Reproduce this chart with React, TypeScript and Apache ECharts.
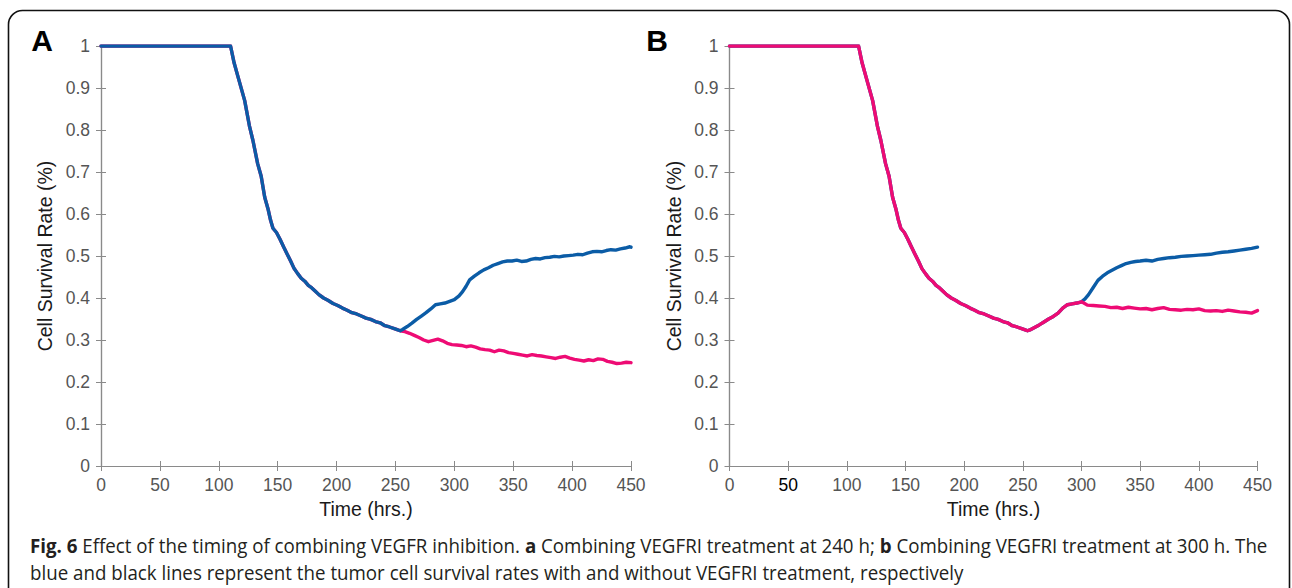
import React, { useEffect, useRef } from "react";
import * as echarts from "echarts";

// ---- data ----
const xTicks = [0, 50, 100, 150, 200, 250, 300, 350, 400, 450];

// shared decline (both panels, both series)
const commonT = [0, 50, 100, 110, 113, 117, 122, 126, 129, 133, 136, 139, 142, 144, 146, 149, 152, 155, 158, 161, 164, 167, 170, 173, 176, 179, 182, 185, 189, 193, 197, 201, 205, 209, 213, 217, 221, 225, 229, 233, 237, 241, 245, 249, 252, 254];
const commonV = [1, 1, 1, 1, 0.96, 0.92, 0.87, 0.81, 0.775, 0.72, 0.69, 0.64, 0.61, 0.585, 0.566, 0.556, 0.54, 0.522, 0.505, 0.488, 0.47, 0.458, 0.447, 0.44, 0.43, 0.424, 0.416, 0.408, 0.4, 0.394, 0.387, 0.382, 0.376, 0.371, 0.365, 0.362, 0.357, 0.352, 0.349, 0.344, 0.341, 0.334, 0.331, 0.327, 0.324, 0.322];

// panel A: pink (without VEGFRI) after 254 h
const pinkAT = [258, 262, 266, 270, 274, 278, 282, 286, 290, 294, 298, 302, 306, 310, 314, 318, 322, 326, 330, 334, 338, 342, 346, 350, 354, 358, 362, 366, 370, 374, 378, 382, 386, 390, 394, 398, 402, 406, 410, 414, 418, 422, 426, 430, 434, 438, 442, 446, 450];
const pinkAV = [0.32, 0.316, 0.311, 0.306, 0.3, 0.296, 0.299, 0.302, 0.298, 0.292, 0.289, 0.288, 0.287, 0.284, 0.286, 0.283, 0.279, 0.277, 0.276, 0.272, 0.276, 0.274, 0.27, 0.268, 0.266, 0.264, 0.262, 0.265, 0.263, 0.262, 0.26, 0.258, 0.256, 0.259, 0.261, 0.257, 0.254, 0.252, 0.25, 0.253, 0.251, 0.255, 0.254, 0.249, 0.247, 0.244, 0.245, 0.247, 0.246];

// panel A: blue (with VEGFRI) after 254 h
const blueAT = [256, 260, 264, 268, 272, 276, 280, 284, 288, 292, 296, 300, 304, 307, 310, 313, 317, 321, 325, 329, 333, 337, 341, 345, 349, 353, 357, 361, 365, 369, 373, 377, 381, 385, 389, 393, 397, 401, 405, 409, 413, 417, 421, 425, 429, 433, 437, 441, 445, 449, 450];
const blueAV = [0.325, 0.332, 0.34, 0.349, 0.357, 0.365, 0.374, 0.384, 0.386, 0.388, 0.392, 0.396, 0.405, 0.415, 0.428, 0.443, 0.452, 0.46, 0.467, 0.472, 0.478, 0.482, 0.486, 0.488, 0.488, 0.49, 0.487, 0.488, 0.492, 0.494, 0.493, 0.496, 0.497, 0.499, 0.498, 0.5, 0.501, 0.502, 0.504, 0.503, 0.507, 0.51, 0.511, 0.51, 0.513, 0.515, 0.514, 0.517, 0.519, 0.522, 0.521];

// panel B: shared rise 254-300 h
const riseBT = [256, 260, 264, 268, 272, 276, 280, 284, 288, 292, 296, 300];
const riseBV = [0.324, 0.33, 0.336, 0.343, 0.35, 0.356, 0.364, 0.376, 0.384, 0.386, 0.388, 0.391];

// panel B: pink after 300 h
const pinkBT = [302, 305, 310, 315, 320, 325, 330, 335, 340, 345, 350, 355, 360, 365, 370, 375, 380, 385, 390, 395, 400, 405, 410, 415, 420, 425, 430, 435, 440, 445, 450];
const pinkBV = [0.388, 0.383, 0.382, 0.381, 0.38, 0.377, 0.378, 0.375, 0.378, 0.376, 0.374, 0.375, 0.372, 0.375, 0.377, 0.373, 0.372, 0.371, 0.373, 0.372, 0.374, 0.37, 0.369, 0.37, 0.368, 0.371, 0.369, 0.367, 0.366, 0.364, 0.37];

// panel B: blue after 300 h
const blueBT = [303, 306, 310, 314, 318, 322, 326, 330, 334, 338, 342, 346, 350, 355, 360, 365, 370, 375, 380, 385, 390, 395, 400, 405, 410, 415, 420, 425, 430, 435, 440, 445, 450];
const blueBV = [0.398, 0.408, 0.425, 0.442, 0.452, 0.46, 0.466, 0.472, 0.477, 0.482, 0.485, 0.487, 0.488, 0.49, 0.488, 0.492, 0.494, 0.496, 0.497, 0.499, 0.5, 0.501, 0.502, 0.503, 0.504, 0.507, 0.509, 0.51, 0.512, 0.514, 0.516, 0.518, 0.521];

const panelLabels = ["A", "B"];
const xName = "Time (hrs.)";
const yName = "Cell Survival Rate (%)";
const captionLine1 = [
  { t: "Fig. 6", b: true },
  { t: " Effect of the timing of combining VEGFR inhibition. ", b: false },
  { t: "a", b: true },
  { t: " Combining VEGFRI treatment at 240 h; ", b: false },
  { t: "b", b: true },
  { t: " Combining VEGFRI treatment at 300 h. The", b: false },
];
const captionLine2 = "blue and black lines represent the tumor cell survival rates with and without VEGFRI treatment, respectively";

const BLUE = "#0B5CA6";
const PINK = "#EE0B74";
const AXIS = "#8a8a8a";

function pairs(ts: number[][], vs: number[][]) {
  const out: number[][] = [];
  ts.forEach((t, k) => t.forEach((x, i) => out.push([x, vs[k][i]])));
  return out;
}

export default function App() {
  const ref = useRef<HTMLDivElement>(null);
  useEffect(() => {
    if (!ref.current) return;
    const chart = echarts.init(ref.current, undefined, { renderer: "svg" });

    const capFont = '"Open Sans"';
    const capSize = 19.5;
    const ctx = document.createElement("canvas").getContext("2d")!;
    let w1 = 0;
    captionLine1.forEach((s) => {
      ctx.font = `${s.b ? "bold " : ""}${capSize}px ${capFont}`;
      w1 += ctx.measureText(s.t).width;
    });
    const scale = w1 > 0 ? 1238 / w1 : 0.8;

    const grids = [
      { left: 101, top: 46, width: 530, height: 420 },
      { left: 729.5, top: 46, width: 528, height: 420 },
    ];

    const xAxes: any[] = [];
    const yAxes: any[] = [];
    grids.forEach((_, gi) => {
      const base = {
        type: "value",
        gridIndex: gi,
        axisLine: { show: true, lineStyle: { color: AXIS, width: 1.2 } },
        axisTick: { show: true, inside: true, length: 5, lineStyle: { color: AXIS } },
        splitLine: { show: false },
      };
      xAxes.push({
        ...base,
        position: "bottom",
        min: 0,
        max: 450,
        interval: 50,
        name: xName,
        nameLocation: "middle",
        nameGap: 31,
        nameTextStyle: { fontSize: 19.5, color: "#1a1a1a", fontFamily: "Liberation Sans" },
        axisLabel: {
          fontSize: 17.5,
          color: "#555",
          margin: 10,
          fontFamily: "Liberation Sans",
          formatter: (v: number) => (gi === 1 && v === 50 ? `{d|${v}}` : `${v}`),
          rich: { d: { color: "#000", fontSize: 17.5, fontFamily: "Liberation Sans" } },
        },
      });
      xAxes.push({
        ...base,
        position: "top",
        min: 0,
        max: 450,
        interval: 50,
        axisLabel: { show: false },
      });
      yAxes.push({
        ...base,
        position: "left",
        min: 0,
        max: 1,
        interval: 0.1,
        name: yName,
        nameLocation: "middle",
        nameGap: 46,
        nameTextStyle: { fontSize: 19.5, color: "#1a1a1a", fontFamily: "Liberation Sans" },
        axisLabel: { fontSize: 17.5, color: "#555", margin: 11, fontFamily: "Liberation Sans" },
      });
      yAxes.push({
        ...base,
        position: "right",
        min: 0,
        max: 1,
        interval: 0.1,
        axisLabel: { show: false },
      });
    });

    const line = (name: string, data: number[][], color: string, gi: number) => ({
      name,
      type: "line",
      xAxisIndex: gi * 2,
      yAxisIndex: gi * 2,
      data,
      showSymbol: false,
      symbol: "none",
      lineStyle: { color, width: 3.4, join: "round", cap: "round" },
      itemStyle: { color },
    });

    const series = [
      line("A without VEGFRI", pairs([commonT, pinkAT], [commonV, pinkAV]), PINK, 0),
      line("A with VEGFRI", pairs([commonT, blueAT], [commonV, blueAV]), BLUE, 0),
      line("B with VEGFRI", pairs([commonT, riseBT, blueBT], [commonV, riseBV, blueBV]), BLUE, 1),
      line("B without VEGFRI", pairs([commonT, riseBT, pinkBT], [commonV, riseBV, pinkBV]), PINK, 1),
    ];

    const richText = captionLine1
      .map((s) => (s.b ? `{b|${s.t}}` : `{n|${s.t}}`))
      .join("");

    chart.setOption({
      animation: false,
      backgroundColor: "#ffffff",
      grid: grids,
      xAxis: xAxes,
      yAxis: yAxes,
      series,
      graphic: [
        {
          type: "rect",
          shape: { x: 8.5, y: 10.5, width: 1281, height: 640, r: 14 },
          style: { fill: "none", stroke: "#111", lineWidth: 1.6 },
          silent: true,
        },
        {
          type: "text",
          x: 42,
          y: 40,
          style: {
            text: panelLabels[0],
            fontSize: 30,
            fontWeight: "bold",
            fontFamily: "Liberation Sans",
            fill: "#000",
            align: "center",
            verticalAlign: "middle",
          },
        },
        {
          type: "text",
          x: 657,
          y: 40,
          style: {
            text: panelLabels[1],
            fontSize: 30,
            fontWeight: "bold",
            fontFamily: "Liberation Sans",
            fill: "#000",
            align: "center",
            verticalAlign: "middle",
          },
        },
        {
          type: "group",
          x: 30,
          y: 0,
          scaleX: scale,
          children: [
            {
              type: "text",
              x: 0,
              y: 546,
              style: {
                text: richText,
                fontSize: capSize,
                fontFamily: capFont,
                fill: "#231f20",
                verticalAlign: "middle",
                rich: {
                  b: { fontWeight: "bold", fontSize: capSize, fontFamily: capFont, fill: "#231f20" },
                  n: { fontSize: capSize, fontFamily: capFont, fill: "#231f20" },
                },
              },
            },
            {
              type: "text",
              x: 0,
              y: 573,
              style: {
                text: captionLine2,
                fontSize: capSize,
                fontFamily: capFont,
                fill: "#231f20",
                verticalAlign: "middle",
              },
            },
          ],
        },
      ],
    });
    return () => chart.dispose();
  }, []);
  return (
    <div
      ref={ref}
      style={{ position: "absolute", left: 0, top: 0, width: 1292, height: 588 }}
    />
  );
}
